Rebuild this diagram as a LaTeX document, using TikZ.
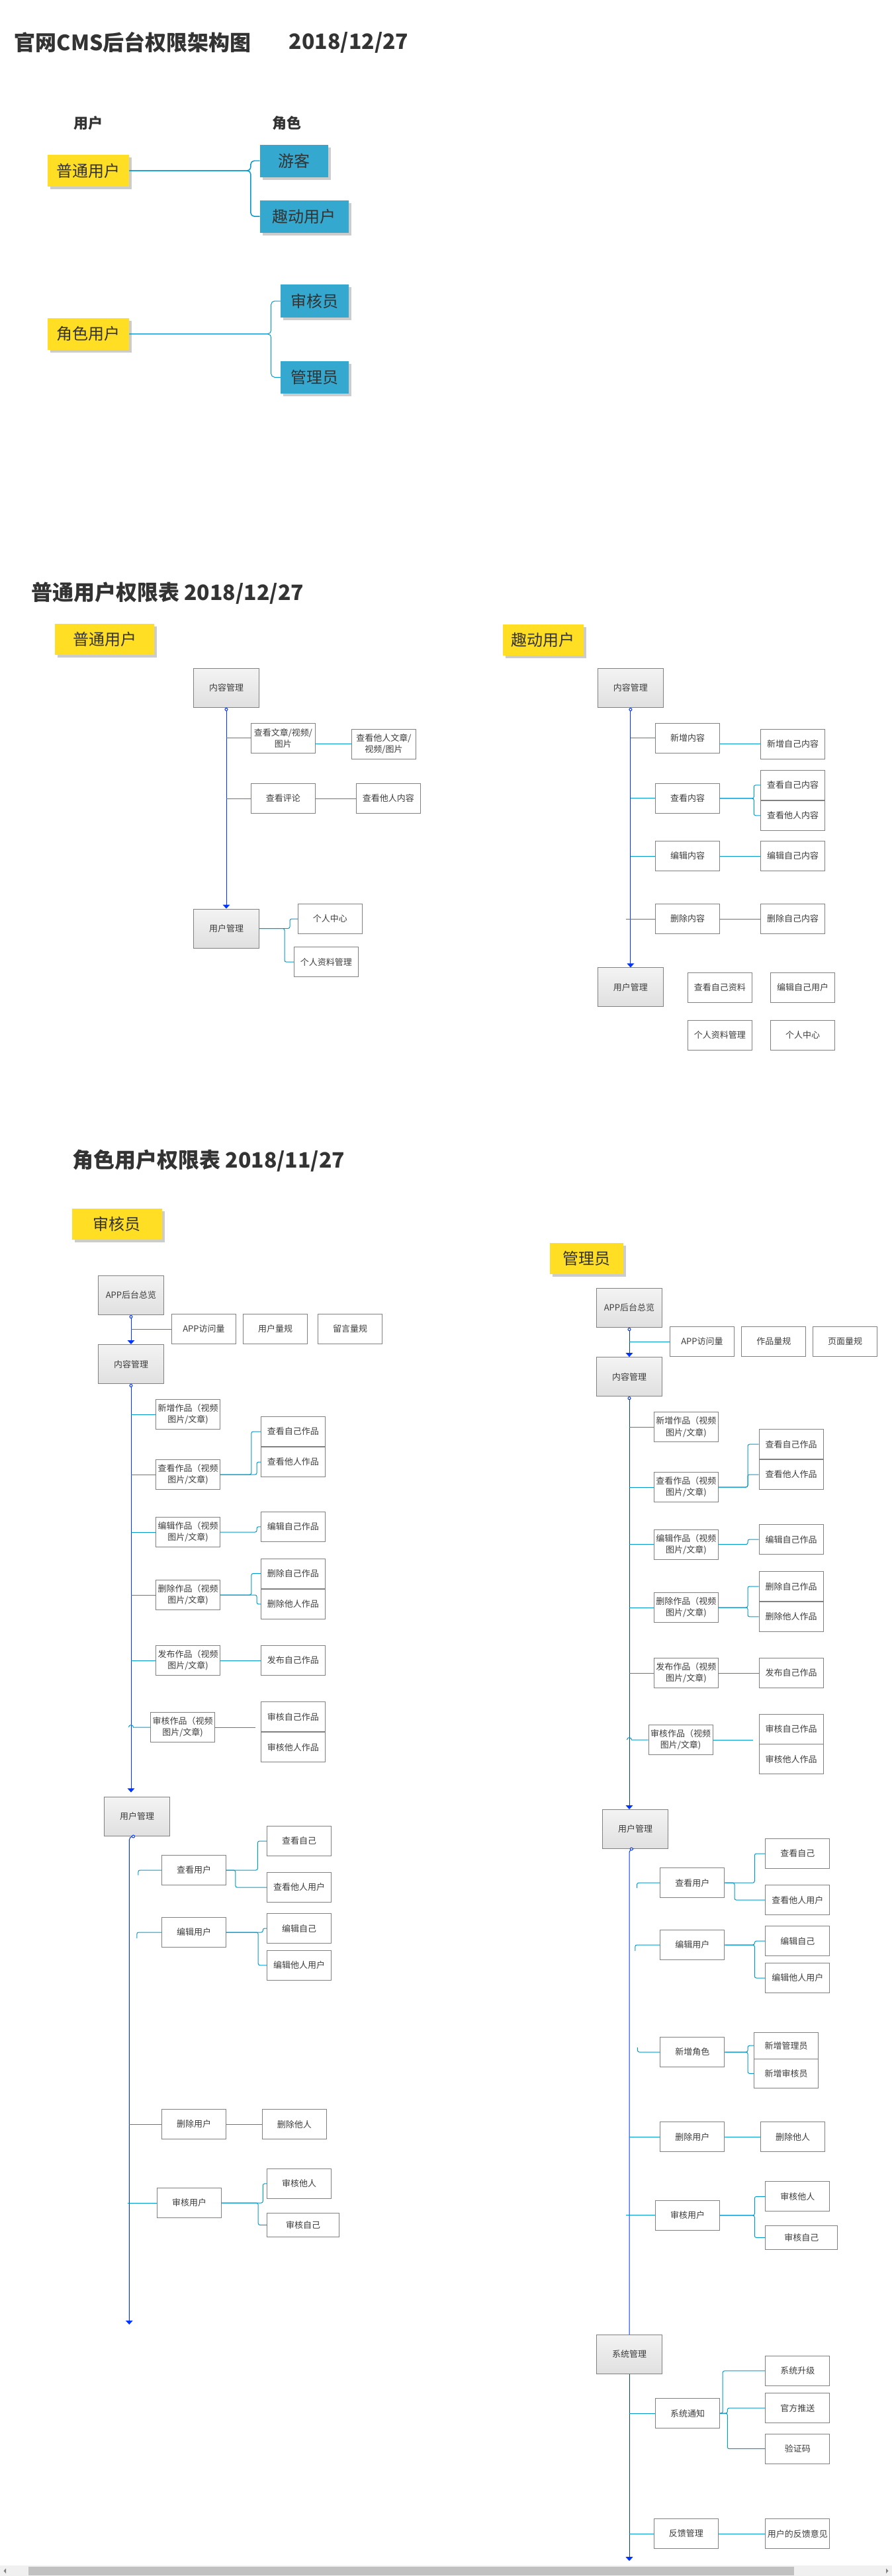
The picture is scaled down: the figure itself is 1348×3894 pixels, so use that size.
\documentclass[tikz,border=0pt]{standalone}
\usepackage{fontspec}
\setmainfont{Noto Sans CJK SC}
\usepackage{xcolor}
\usetikzlibrary{arrows.meta,calc,positioning,shadows}
\definecolor{ttltext}{RGB}{51,51,51}
\definecolor{boxtext}{RGB}{60,60,60}
\definecolor{boxline}{RGB}{128,128,128}
\definecolor{tagyellow}{RGB}{255,222,35}
\definecolor{tagblue}{RGB}{52,168,206}
\definecolor{mainblue}{RGB}{0,51,255}
\definecolor{linkblue}{RGB}{0,153,204}
\definecolor{gtop}{RGB}{243,243,243}
\definecolor{gbot}{RGB}{224,224,224}
\definecolor{sbar}{RGB}{240,240,240}
\definecolor{sthumb}{RGB}{193,193,193}
\newcommand{\boxfont}{\fontsize{9.75pt}{13pt}\selectfont}
\newcommand{\yfont}{\fontsize{18pt}{21pt}\selectfont}
\newcommand{\headfont}{\fontsize{16.5pt}{19pt}\selectfont\bfseries}
\newcommand{\ttlfont}{\fontsize{24pt}{28pt}\selectfont\bfseries}
\tikzset{%
	boxsize/.style 2 args = {minimum width=#1*0.75pt, minimum height=#2*0.75pt},
	ybox/.style     = {fill=tagyellow, text=ttltext, font=\yfont, inner sep=0pt, boxsize={122.7}{47.7}, drop shadow={shadow xshift=3pt, shadow yshift=-3pt, fill=black, opacity=0.2}},
	bbox/.style     = {ybox, fill=tagblue},
	gbox/.style     = {draw=boxline, line width=0.75pt, top color=gtop, bottom color=gbot, text=boxtext, font=\boxfont, inner sep=0pt, boxsize={99}{59}},
	wbox/.style     = {draw=boxline, line width=0.75pt, fill=white, text=boxtext, font=\boxfont, align=center, inner sep=0pt, boxsize={97}{45}},
	head/.style     = {text=ttltext, font=\headfont, inner sep=0pt},
	ttl/.style      = {anchor=west, text=ttltext, font=\ttlfont, inner sep=0pt},
	mline/.style    = {draw=mainblue, line width=0.75pt},
	dotarrow/.style = {{Circle[open,fill=white,length=3.75pt]}-{Triangle[width=8pt,length=4.5pt]}},
	dotstart/.style = {{Circle[open,fill=white,length=3.75pt]}-},
	tipend/.style   = {-{Triangle[width=8pt,length=4.5pt]}},
	bline/.style    = {draw=linkblue, line width=0.75pt, rounded corners=2pt},
	tline/.style    = {draw=linkblue, line width=1.1pt, rounded corners=4pt},
}
\begin{document}
\begin{tikzpicture}[x=0.75pt,y=-0.75pt]
	\useasboundingbox (0,0) rectangle (1348,3894);
	
	\node[ttl] (t0) at (21.4,64.3) {官网CMS后台权限架构图};
	\node[ttl] (t0d) at (436.6,64.3) {2018/12/27};
	
	\node[head] (hu) at (133,186.6) {用户};
	\node[head] (hj) at (433,186.6) {角色};
	\node[ybox] (pu) at (133.7,258) {普通用户};
	\node[bbox, boxsize={102.6}{49}] (yk) at (444.2,243) {游客};
	\node[bbox, boxsize={133.9}{49}] (qd) at (459.8,327.1) {趣动用户};
	\node[ybox] (js) at (133.7,504.8) {角色用户};
	\node[bbox, boxsize={102.7}{49.4}] (sh) at (475.4,455) {审核员};
	\node[bbox, boxsize={102.7}{49.4}] (gl) at (475.4,570.3) {管理员};
	\draw[tline] (pu.east) -- ++(183.6,0) |- (yk.west);
	\draw[tline] (pu.east) -- ++(183.6,0) |- (qd.west);
	\draw[tline, line width=0.75pt] (js.east) -- ++(214.4,0) |- (sh.west);
	\draw[tline, line width=0.75pt] (js.east) -- ++(214.4,0) |- (gl.west);
	
	\node[ttl] (t1) at (46.9,896.4) {普通用户权限表 2018/12/27};
	\node[ybox, boxsize={150}{46.8}] (pu2) at (158,966.7) {普通用户};
	\node[gbox] (nr1) at (342,1039.9) {内容管理};
	\node[wbox] (ck1) at (427.9,1115.8) {查看文章/视频/\\图片};
	\node[wbox] (ckt1) at (580,1124.7) {查看他人文章/\\视频/图片};
	\node[wbox] (pl1) at (427.9,1207) {查看评论};
	\node[wbox] (ckn1) at (586.8,1207) {查看他人内容};
	\node[gbox] (yh1) at (342,1403.5) {用户管理};
	\node[wbox] (gr1) at (498.9,1389) {个人中心};
	\node[wbox] (zl1) at (492.8,1454.1) {个人资料管理};
	\draw[mline, dotarrow] (nr1.south) -- (yh1.north);
	\draw[bline] (ck1.west) -- (ck1.west -| nr1.south);
	\draw[bline] (ck1.east |- ckt1.west) -- (ckt1.west);
	\draw[bline] (pl1.west) -- (pl1.west -| nr1.south);
	\draw[bline] (pl1.east) -- (ckn1.west);
	\draw[bline] (yh1.east) -- ++(46,0) |- (gr1.west);
	\draw[bline] (yh1.east) -- ++(38,0) |- (zl1.west);
	
	\node[ybox, boxsize={121.9}{46.4}] (qd2) at (820.9,967.4) {趣动用户};
	\node[gbox] (nr2) at (952.9,1040) {内容管理};
	\node[wbox] (xz2) at (1039,1115.9) {新增内容};
	\node[wbox] (xzz2) at (1198,1124.8) {新增自己内容};
	\node[wbox] (ck2) at (1039,1206.9) {查看内容};
	\node[wbox] (ckz2) at (1198,1186.8) {查看自己内容};
	\node[wbox] (ckt2) at (1198,1232.8) {查看他人内容};
	\node[wbox] (bj2) at (1039,1294) {编辑内容};
	\node[wbox] (bjz2) at (1198,1294) {编辑自己内容};
	\node[wbox] (sc2) at (1039,1389) {删除内容};
	\node[wbox] (scz2) at (1198,1389) {删除自己内容};
	\node[gbox] (yh2) at (952.9,1492.4) {用户管理};
	\node[wbox] (zl2) at (1087.8,1493) {查看自己资料};
	\node[wbox] (bjy2) at (1213,1493) {编辑自己用户};
	\node[wbox] (gl2) at (1087.8,1565) {个人资料管理};
	\node[wbox] (zx2) at (1213,1565) {个人中心};
	\draw[mline, dotarrow] (nr2.south) -- (yh2.north);
	\draw[bline] (xz2.west) -- (xz2.west -| nr2.south);
	\draw[bline] (ck2.west) -- (ck2.west -| nr2.south);
	\draw[bline] (bj2.west) -- (bj2.west -| nr2.south);
	\draw[bline] (sc2.west) -- ($(sc2.west -| nr2.south)+(-7,0)$);
	\draw[bline] (xz2.east |- xzz2.west) -- (xzz2.west);
	\draw[bline] (ck2.east) -- ++(51.3,0) |- (ckz2.west);
	\draw[bline] (ck2.east) -- ++(51.3,0) |- (ckt2.west);
	\draw[bline] (bj2.east) -- (bjz2.west);
	\draw[bline] (sc2.east) -- (scz2.west);
	
	\node[ttl] (t2) at (109,1754.5) {角色用户权限表 2018/11/27};
	\node[ybox, boxsize={135.6}{46.9}] (sh3) at (176.8,1850.7) {审核员};
	\node[gbox] (app3) at (198,1958) {APP后台总览};
	\node[wbox] (fw3) at (308,2009) {APP访问量};
	\node[wbox] (yl3) at (416,2009) {用户量规};
	\node[wbox] (ly3) at (529,2009) {留言量规};
	\node[gbox] (nr3) at (198,2062) {内容管理};
	\draw[mline, dotarrow] (app3.south) -- (nr3.north);
	\draw[bline] (fw3.west) -- (fw3.west -| app3.south);
	
	\node[wbox] (xz3) at (284,2138) {新增作品（视频\\图片/文章)};
	\node[wbox] (ckz3) at (442.8,2164) {查看自己作品};
	\node[wbox] (ckt3) at (442.8,2210) {查看他人作品};
	\node[wbox] (ck3) at (284,2229) {查看作品（视频\\图片/文章)};
	\node[wbox] (bj3) at (284,2316) {编辑作品（视频\\图片/文章)};
	\node[wbox] (bjz3) at (442.8,2307.8) {编辑自己作品};
	\node[wbox] (scz3) at (442.8,2378.5) {删除自己作品};
	\node[wbox] (sc3) at (284,2411) {删除作品（视频\\图片/文章)};
	\node[wbox] (sct3) at (442.8,2424.9) {删除他人作品};
	\node[wbox] (fb3) at (284,2510) {发布作品（视频\\图片/文章)};
	\node[wbox] (fbz3) at (442.8,2510) {发布自己作品};
	\node[wbox] (sh3a) at (276.1,2611) {审核作品（视频\\图片/文章)};
	\node[wbox] (shz3) at (442.8,2595) {审核自己作品};
	\node[wbox] (sht3) at (442.8,2641) {审核他人作品};
	\coordinate (sh3e) at (385.6,2611);
	\node[gbox] (yh3) at (207,2746) {用户管理};
	\draw[mline, dotarrow, shorten >=5pt] (nr3.south) -- (nr3.south |- yh3.north);
	\draw[bline] (xz3.west) -- (xz3.west -| nr3.south);
	\draw[bline] (ck3.west) -- (ck3.west -| nr3.south);
	\draw[bline] (bj3.west) -- (bj3.west -| nr3.south);
	\draw[bline] (sc3.west) -- (sc3.west -| nr3.south);
	\draw[bline] (fb3.west) -- (fb3.west -| nr3.south);
	\draw[bline, sharp corners] (sh3a.west) -- ($(sh3a.west -| nr3.south)+(3.5,0)$) arc[start angle=0, end angle=-180, radius=3.5];
	\draw[bline] (ck3.east) -- ++(46.9,0) |- (ckz3.west);
	\draw[bline] (ck3.east) -- ++(55.1,0) |- (ckt3.west);
	\draw[bline] (bj3.east) -- ++(55.1,0) |- (bjz3.west);
	\draw[bline] (sc3.east) -- ++(46.9,0) |- (scz3.west);
	\draw[bline] (sc3.east) -- ++(55.1,0) |- (sct3.west);
	\draw[bline] (fb3.east) -- (fbz3.west);
	\draw[bline] (sh3a.east) -- (sh3e);
	
	\coordinate (end3) at (195.3,3513.8);
	\draw[mline, dotarrow, rounded corners=4pt] ($(yh3.south)+(-3,0)$) -| (end3);
	\node[wbox] (cky3) at (293.1,2827) {查看用户};
	\node[wbox] (ckzj3) at (452.1,2783) {查看自己};
	\node[wbox] (ckty3) at (452.1,2853) {查看他人用户};
	\node[wbox] (bjy3) at (293.1,2921) {编辑用户};
	\node[wbox] (bjzj3) at (452.1,2915) {编辑自己};
	\node[wbox] (bjty3) at (452.1,2970.8) {编辑他人用户};
	\node[wbox] (scy3) at (293.1,3211) {删除用户};
	\node[wbox] (sctr3) at (444.9,3211) {删除他人};
	\node[wbox] (shy3) at (286.1,3330) {审核用户};
	\node[wbox] (shty3) at (452.1,3300.9) {审核他人};
	\node[wbox, boxsize={109.5}{36}] (shzj3) at (458.1,3363.4) {审核自己};
	\draw[bline] (cky3.west) -| ++(-35.2,7.5);
	\draw[bline] (cky3.east) -- ++(47.3,0) |- (ckzj3.west);
	\draw[bline] (cky3.east) -- ++(13.7,0) |- (ckty3.west);
	\draw[bline] (bjy3.west) -| ++(-37.3,9);
	\draw[bline] (bjy3.east) -- ++(55.2,0) |- (bjzj3.west);
	\draw[bline] (bjy3.east) -- ++(48.1,0) |- (bjty3.west);
	\draw[bline] (scy3.west) -- (scy3.west -| end3);
	\draw[bline] (scy3.east) -- (sctr3.west);
	\draw[bline] (shy3.west) -- ($(shy3.west -| end3)+(-2,0)$);
	\draw[bline] (shy3.east) -- ++(62.2,0) |- (shty3.west);
	\draw[bline] (shy3.east) -- ++(55.1,0) |- (shzj3.west);
	
	\node[ybox, boxsize={110.4}{46.4}] (gly4) at (886.4,1902.3) {管理员};
	\node[gbox] (app4) at (951,1977) {APP后台总览};
	\node[wbox] (fw4) at (1061,2028) {APP访问量};
	\node[wbox] (zp4) at (1169.3,2028) {作品量规};
	\node[wbox] (ym4) at (1277.1,2028) {页面量规};
	\node[gbox] (nr4) at (951,2081.1) {内容管理};
	\draw[mline, dotarrow] (app4.south) -- (nr4.north);
	\draw[bline] (fw4.west) -- (fw4.west -| app4.south);
	
	\node[wbox] (xz4) at (1036.9,2157.2) {新增作品（视频\\图片/文章)};
	\node[wbox] (ckz4) at (1195.7,2183.2) {查看自己作品};
	\node[wbox] (ckt4) at (1195.7,2229) {查看他人作品};
	\node[wbox] (ck4) at (1036.9,2248) {查看作品（视频\\图片/文章)};
	\node[wbox] (bj4) at (1036.9,2334.7) {编辑作品（视频\\图片/文章)};
	\node[wbox] (bjz4) at (1195.7,2327) {编辑自己作品};
	\node[wbox] (scz4) at (1195.7,2398) {删除自己作品};
	\node[wbox] (sc4) at (1036.9,2430) {删除作品（视频\\图片/文章)};
	\node[wbox] (sct4) at (1195.7,2443.9) {删除他人作品};
	\node[wbox] (fb4) at (1036.9,2529) {发布作品（视频\\图片/文章)};
	\node[wbox] (fbz4) at (1195.7,2529) {发布自己作品};
	\node[wbox] (sh4a) at (1028.6,2630) {审核作品（视频\\图片/文章)};
	\node[wbox] (shz4) at (1195.7,2613.5) {审核自己作品};
	\node[wbox] (sht4) at (1195.7,2659.3) {审核他人作品};
	\coordinate (sh4e) at (1138.4,2630);
	\node[gbox] (yh4) at (960.1,2765) {用户管理};
	\draw[mline, dotarrow] (nr4.south) -- (nr4.south |- yh4.north);
	\draw[bline] (xz4.west) -- (xz4.west -| nr4.south);
	\draw[bline] (ck4.west) -- (ck4.west -| nr4.south);
	\draw[bline] (bj4.west) -- (bj4.west -| nr4.south);
	\draw[bline] (sc4.west) -- (sc4.west -| nr4.south);
	\draw[bline] (fb4.west) -- (fb4.west -| nr4.south);
	\draw[bline, sharp corners] (sh4a.west) -- ($(sh4a.west -| nr4.south)+(3.5,0)$) arc[start angle=0, end angle=-180, radius=3.5];
	\draw[bline] (ck4.east) -- ++(44.1,0) |- (ckz4.west);
	\draw[bline] (ck4.east) -- ++(44.1,0) |- (ckt4.west);
	\draw[bline] (bj4.east) -- ++(44.1,0) |- (bjz4.west);
	\draw[bline] (sc4.east) -- ++(44.1,0) |- (scz4.west);
	\draw[bline] (sc4.east) -- ++(44.1,0) |- (sct4.west);
	\draw[bline] (fb4.east) -- (fbz4.west);
	\draw[bline] (sh4a.east) -- (sh4e);
	
	\node[gbox] (xt4) at (951,3558.9) {系统管理};
	\coordinate (end4) at (951,3871.2);
	\draw[mline, dotstart, rounded corners=4pt] ($(yh4.south)+(-3.3,0)$) -| (xt4.north);
	\draw[mline, tipend] (xt4.south) -- (end4);
	\node[wbox] (cky4) at (1046.3,2846.2) {查看用户};
	\node[wbox] (ckzj4) at (1205.3,2802) {查看自己};
	\node[wbox] (ckty4) at (1205.3,2872.1) {查看他人用户};
	\node[wbox] (bjy4) at (1046.3,2940) {编辑用户};
	\node[wbox] (bjzj4) at (1205.3,2934.2) {编辑自己};
	\node[wbox] (bjty4) at (1205.3,2990) {编辑他人用户};
	\node[wbox] (xzj4) at (1046.3,3102) {新增角色};
	\node[wbox, boxsize={97.4}{39.7}] (xzg4) at (1188,3092.2) {新增管理员};
	\node[wbox, boxsize={97.4}{44.7}] (xzs4) at (1188,3134.4) {新增审核员};
	\node[wbox] (scy4) at (1046.3,3230.2) {删除用户};
	\node[wbox] (sctr4) at (1198.2,3230.2) {删除他人};
	\node[wbox] (shy4) at (1039.2,3348.9) {审核用户};
	\node[wbox] (shty4) at (1205.3,3320.4) {审核他人};
	\node[wbox, boxsize={109.2}{36}] (shzj4) at (1211.3,3382.4) {审核自己};
	\node[wbox] (tz4) at (1039.2,3648) {系统通知};
	\node[wbox] (sj4) at (1205.3,3583.9) {系统升级};
	\node[wbox] (ts4) at (1205.3,3640) {官方推送};
	\node[wbox] (yzm4) at (1205.3,3701.7) {验证码};
	\node[wbox] (fk4) at (1036.9,3830) {反馈管理};
	\node[wbox] (yj4) at (1205.3,3830) {用户的反馈意见};
	\draw[bline] (cky4.west) -| ++(-34.8,7.8);
	\draw[bline] (cky4.east) -- ++(45,0) |- (ckzj4.west);
	\draw[bline] (cky4.east) -- ++(14.7,0) |- (ckty4.west);
	\draw[bline] (bjy4.west) -| ++(-37.5,9);
	\draw[bline] (bjy4.east) -- ++(45,0) |- (bjzj4.west);
	\draw[bline] (bjy4.east) -- ++(45,0) |- (bjty4.west);
	\draw[bline] (xzj4.west) -| ++(-33.9,-7);
	\draw[bline] (xzj4.east) -- ++(34.7,0) |- (xzg4.west);
	\draw[bline] (xzj4.east) -- ++(34.7,0) |- (xzs4.west);
	\draw[bline] (scy4.west) -- (scy4.west -| xt4.north);
	\draw[bline] (scy4.east) -- (sctr4.west);
	\draw[bline] (shy4.west) -- ($(shy4.west -| xt4.north)+(-5,0)$);
	\draw[bline] (shy4.east) -- ++(52.1,0) |- (shty4.west);
	\draw[bline] (shy4.east) -- ++(52.1,0) |- (shzj4.west);
	\draw[bline] (tz4.west) -- (tz4.west -| xt4.south);
	\draw[bline] (tz4.east) -- ++(4,0) |- (sj4.west);
	\draw[bline] (tz4.east) -- ++(11.1,0) |- (ts4.west);
	\draw[bline] (tz4.east) -- ++(11.1,0) |- (yzm4.west);
	\draw[bline] (fk4.west) -- (fk4.west -| xt4.south);
	\draw[bline] (fk4.east) -- (yj4.west);
	
	\fill[sbar] (0,3877.7) rectangle (1348,3894);
	\fill[sthumb] (43,3880) rectangle (1199.5,3892.7);
	\fill[gray] (9,3882.5) -- (5.5,3886.3) -- (9,3890) -- cycle;
	\fill[gray] (1339,3882.5) -- (1342.5,3886.3) -- (1339,3890) -- cycle;
\end{tikzpicture}
\end{document}
